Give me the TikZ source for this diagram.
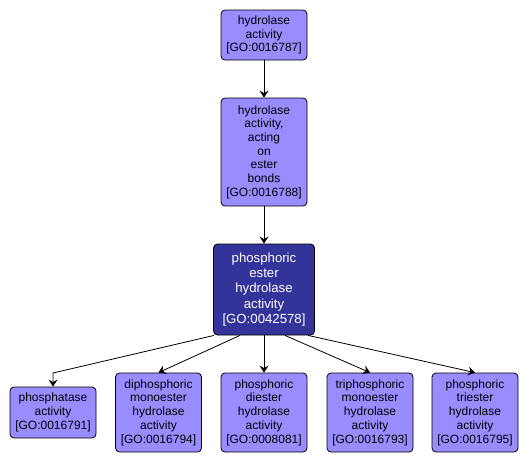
\documentclass[tikz,border=0pt]{standalone}
\usepackage{fontspec}
\setmainfont{Liberation Sans}
\usetikzlibrary{arrows.meta}
\definecolor{termfill}{RGB}{153,140,255}
\definecolor{focusfill}{RGB}{51,51,153}

\begin{document}
\begin{tikzpicture}[x=1pt,y=-1pt,
  term/.style={draw,rounded corners=4pt,fill=termfill,align=center,
    minimum width=86pt,inner sep=0pt,line width=.8pt,
    font=\fontsize{12}{13.7}\selectfont},
  focus/.style={term,fill=focusfill,text=white,minimum width=101pt,
    font=\fontsize{13.2}{15.2}\selectfont},
  isa/.style={-{Stealth[length=7pt,width=9pt,inset=2.5pt]},line width=.8pt}]
  \useasboundingbox (0,0) rectangle (530,463);
  \node[term,minimum height=50pt] (hydro) at (264,35)
    {hydrolase\\activity\\{[GO:0016787]}};
  \node[term,minimum height=108pt] (ester) at (264,152)
    {hydrolase\\activity,\\acting\\on\\ester\\bonds\\{[GO:0016788]}};
  \node[focus,minimum height=91pt] (phest) at (264,289.5)
    {phosphoric\\ester\\hydrolase\\activity\\{[GO:0042578]}};
  \node[term,minimum height=51pt] (phtase) at (53,412.5)
    {phosphatase\\activity\\{[GO:0016791]}};
  \node[term,minimum height=79pt] (diphos) at (158.5,412.5)
    {diphosphoric\\monoester\\hydrolase\\activity\\{[GO:0016794]}};
  \node[term,minimum height=79pt] (diest) at (264,412.5)
    {phosphoric\\diester\\hydrolase\\activity\\{[GO:0008081]}};
  \node[term,minimum height=79pt] (triphos) at (370,412.5)
    {triphosphoric\\monoester\\hydrolase\\activity\\{[GO:0016793]}};
  \node[term,minimum height=79pt] (triest) at (475,412.5)
    {phosphoric\\triester\\hydrolase\\activity\\{[GO:0016795]}};
  \coordinate (bend) at (53,373);
  \draw[isa] (hydro) -- (ester);
  \draw[isa] (ester) -- (phest);
  \draw[isa] ([xshift=1pt]phest.south west) -- (bend) -- (phtase.north);
  \draw[isa] ([xshift=-24pt]phest.south) -- (diphos.north);
  \draw[isa] (phest.south) -- (diest.north);
  \draw[isa] ([xshift=21pt]phest.south) -- (triphos.north);
  \draw[isa] ([xshift=44pt]phest.south) -- (triest.north);
\end{tikzpicture}
\end{document}
